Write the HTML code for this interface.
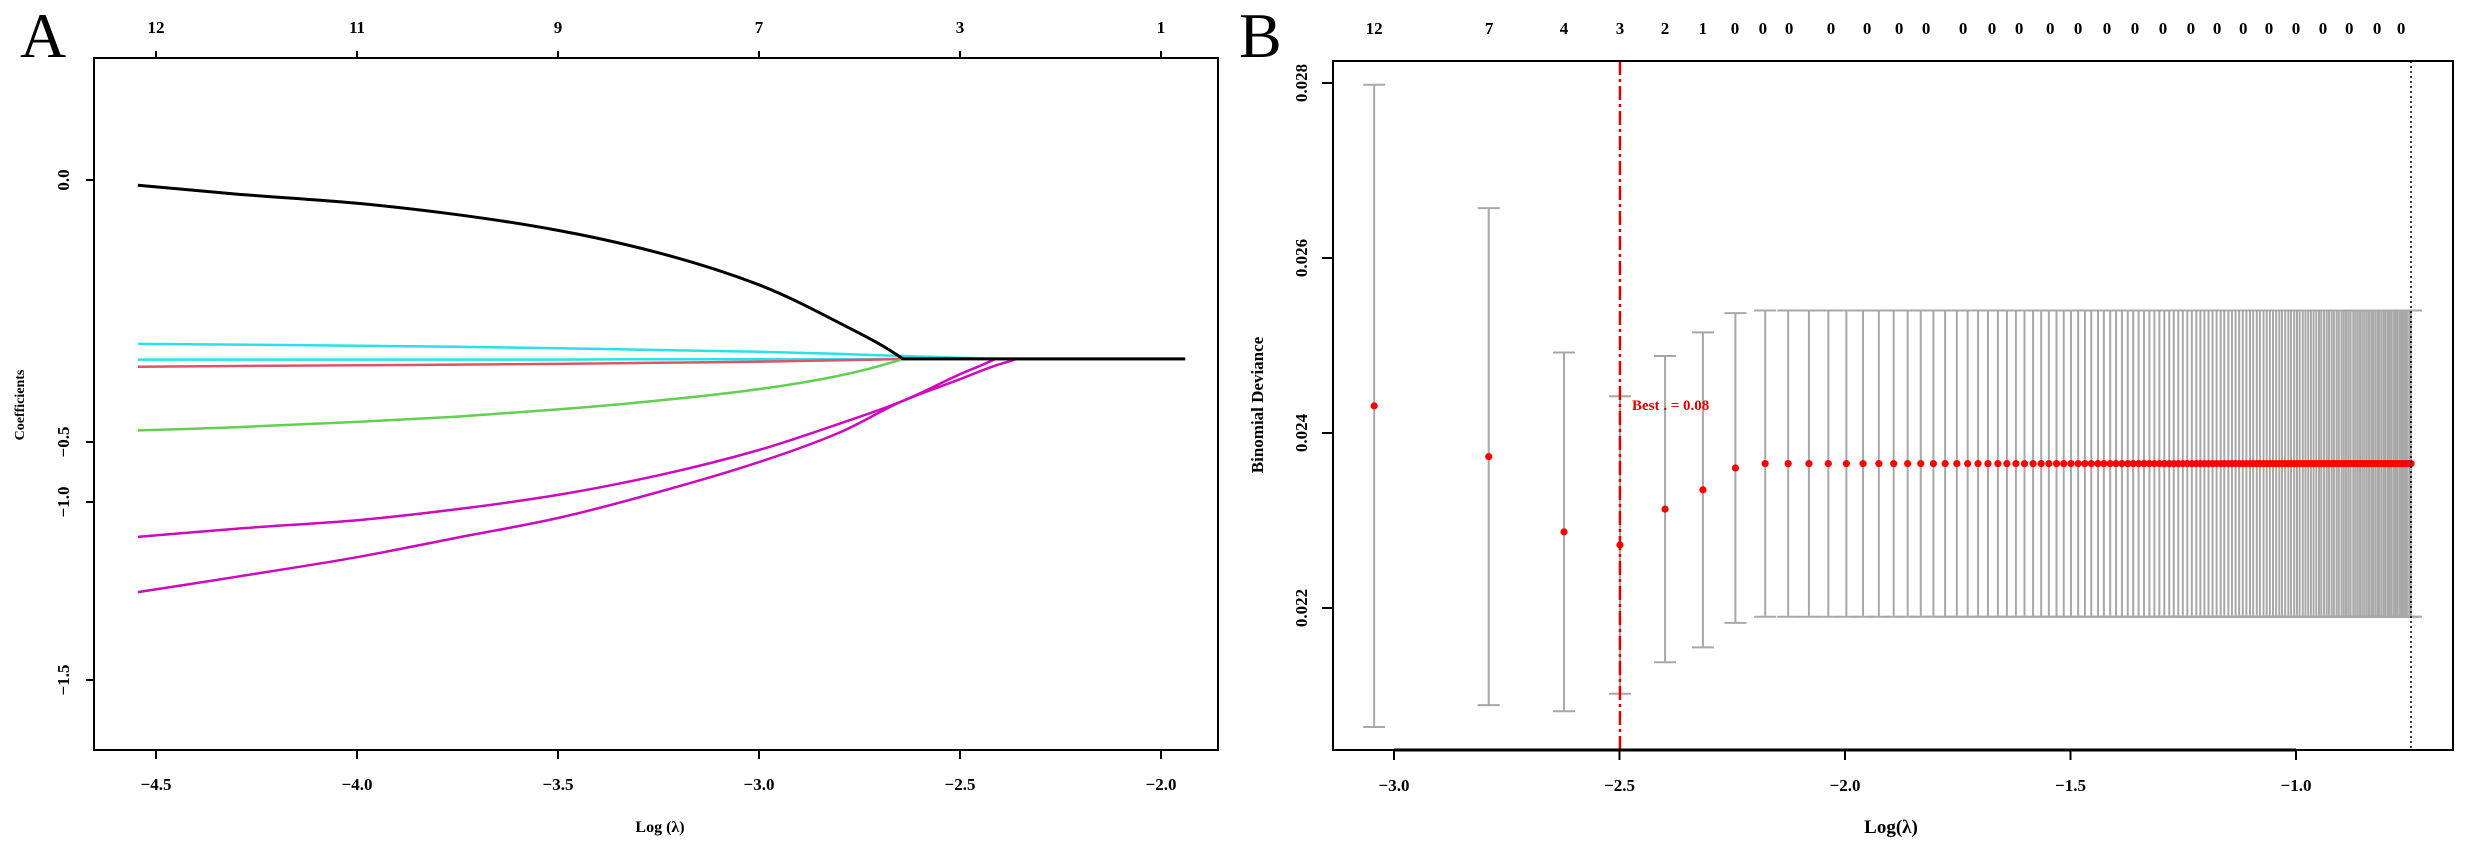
<!DOCTYPE html>
<html><head><meta charset="utf-8">
<style>
html,body{margin:0;padding:0;background:#fff;}
svg{display:block;font-family:"Liberation Serif","DejaVu Serif",serif;}
.tk{font-size:17px;font-weight:bold;fill:#000;}
</style></head>
<body>
<svg id="fig" width="2467" height="848" viewBox="0 0 2467 848" xmlns="http://www.w3.org/2000/svg">
  <rect x="0" y="0" width="2467" height="848" fill="#fff"/>
  <g id="panelA"></g>
  <g id="panelB"></g>
</svg>
<script>
// ---------- Panel A data ----------
const xA = [-4.545, -4.3, -4.0, -3.75, -3.5, -3.25, -3.0, -2.8, -2.642, -2.5, -2.413, -2.36, -2.0, -1.94];
const pathBlack   = [-0.110, -0.135, -0.161, -0.193, -0.237, -0.300, -0.390, -0.497, -0.598, -0.598, -0.598, -0.598, -0.598, -0.598];
const pathCyanTop = [-0.556, -0.558, -0.561, -0.564, -0.568, -0.573, -0.578, -0.584, -0.590, -0.595, -0.598, -0.598, -0.598, -0.598];
const pathCyanLow = [-0.600, -0.600, -0.600, -0.600, -0.600, -0.599, -0.599, -0.599, -0.598, -0.598, -0.598, -0.598, -0.598, -0.598];
const pathRed     = [-0.620, -0.618, -0.616, -0.614, -0.612, -0.609, -0.606, -0.602, -0.598, -0.598, -0.598, -0.598, -0.598, -0.598];
const pathGreen   = [-0.799, -0.790, -0.775, -0.760, -0.740, -0.715, -0.683, -0.645, -0.598, -0.598, -0.598, -0.598, -0.598, -0.598];
const pathMag1    = [-1.098, -1.075, -1.051, -1.020, -0.980, -0.925, -0.854, -0.780, -0.716, -0.641, -0.598, -0.598, -0.598, -0.598];
const pathMag2    = [-1.253, -1.210, -1.155, -1.100, -1.045, -0.972, -0.888, -0.805, -0.716, -0.655, -0.617, -0.598, -0.598, -0.598];
const xTicksA = [-4.5, -4.0, -3.5, -3.0, -2.5, -2.0];
const xTickLabelsA = ["\u22124.5", "\u22124.0", "\u22123.5", "\u22123.0", "\u22122.5", "\u22122.0"];
const topLabelsA = ["12", "11", "9", "7", "3", "1"];
const yTicksA = [-0.0955, -0.8315, -1.0, -1.5];
const yTickLabelsA = ["0.0", "\u22120.5", "\u22121.0", "\u22121.5"];

// ---------- Panel B data ----------
const logLambda = [-3.044, -2.790, -2.623, -2.499, -2.399, -2.315, -2.243,
 -2.177, -2.126, -2.080, -2.037, -1.997, -1.960, -1.925, -1.892, -1.861, -1.832,
 -1.804, -1.778, -1.752, -1.728, -1.705, -1.683, -1.661, -1.641, -1.621, -1.602,
 -1.583, -1.565, -1.548, -1.531, -1.515, -1.499, -1.483, -1.468, -1.454, -1.439,
 -1.426, -1.412, -1.399, -1.386, -1.373, -1.361, -1.349, -1.337, -1.325, -1.314,
 -1.303, -1.292, -1.281, -1.271, -1.261, -1.251, -1.241, -1.231, -1.221, -1.212,
 -1.203, -1.194, -1.185, -1.176, -1.167, -1.159, -1.150, -1.142, -1.134, -1.126,
 -1.118, -1.110, -1.102, -1.095, -1.087, -1.080, -1.072, -1.065, -1.058, -1.051,
 -1.044, -1.037, -1.031, -1.024, -1.017, -1.011, -1.004, -0.998, -0.992, -0.985,
 -0.979, -0.973, -0.967, -0.961, -0.955, -0.949, -0.944, -0.938, -0.932, -0.927,
 -0.921, -0.916, -0.910, -0.905, -0.899, -0.894, -0.889, -0.884, -0.879, -0.873,
 -0.868, -0.863, -0.858, -0.853, -0.848, -0.843, -0.838, -0.833, -0.829, -0.824,
 -0.819, -0.815, -0.810, -0.805, -0.801, -0.796, -0.792, -0.788, -0.783, -0.779,
 -0.775, -0.770, -0.766, -0.762, -0.758, -0.754, -0.749, -0.745];
const cvMeanHead = [0.02431, 0.02373, 0.02287, 0.02272, 0.02313, 0.02335, 0.02360];
const cvSdHead   = [0.00367, 0.00284, 0.00205, 0.00170, 0.00175, 0.00180, 0.00177];
const cvMeanTail = 0.02365;   // flat deviance for all remaining lambdas
const cvSdTail   = 0.00175;
const bestLogLambda = -2.499;
const maxLogLambda = -0.745;
const xTicksB = [-3.0, -2.5, -2.0, -1.5, -1.0];
const xTickLabelsB = ["\u22123.0", "\u22122.5", "\u22122.0", "\u22121.5", "\u22121.0"];
const yTicksB = [0.022, 0.024, 0.026, 0.028];
const yTickLabelsB = ["0.022", "0.024", "0.026", "0.028"];
const topPosB = [-3.044, -2.789, -2.623, -2.499, -2.399, -2.315, -2.244, -2.182, -2.124,
 -2.031, -1.951, -1.880, -1.820, -1.738, -1.674, -1.614, -1.545, -1.483, -1.419,
 -1.357, -1.295, -1.233, -1.175, -1.117, -1.060, -1.000, -0.940, -0.882, -0.820, -0.767];
const topLabelsB = ["12","7","4","3","2","1","0","0","0","0","0","0","0","0","0","0","0","0","0","0","0","0","0","0","0","0","0","0","0","0"];

const NS = "http://www.w3.org/2000/svg";
function mk(tag, attrs, parent, text) {
  const e = document.createElementNS(NS, tag);
  for (const k in attrs) e.setAttribute(k, attrs[k]);
  if (text !== undefined) e.textContent = text;
  parent.appendChild(e);
  return e;
}
// ---------- axis functions ----------
const sxA = v => 156 + (v + 4.5) * 402;
const syA = v => 502 - (v + 1.0) * 356;
const sxB = v => 1394 + (v + 3) * 451;
const syB = v => 433 - (v - 0.024) * 87500;

// monotone cubic path; sharp corner where a path joins the flat zero line
function monoPath(pts) {
  const n = pts.length, dx = [], m = [], tL = new Array(n), tR = new Array(n);
  for (let i = 0; i < n - 1; i++) { dx[i] = pts[i+1][0] - pts[i][0]; m[i] = (pts[i+1][1] - pts[i][1]) / dx[i]; }
  const flat = v => Math.abs(v) < 1e-6;
  tL[0] = tR[0] = m[0]; tL[n-1] = tR[n-1] = m[n-2];
  for (let i = 1; i < n - 1; i++) {
    if (flat(m[i]) && !flat(m[i-1])) { tL[i] = m[i-1] * 1.25; tR[i] = 0; }
    else if (m[i-1] * m[i] <= 0) { tL[i] = tR[i] = 0; }
    else { const w1 = 2*dx[i] + dx[i-1], w2 = dx[i] + 2*dx[i-1]; tL[i] = tR[i] = (w1 + w2) / (w1 / m[i-1] + w2 / m[i]); }
  }
  let d = "M" + pts[0][0].toFixed(1) + "," + pts[0][1].toFixed(1);
  for (let i = 0; i < n - 1; i++) {
    const h = dx[i] / 3;
    d += " C" + (pts[i][0] + h).toFixed(1) + "," + (pts[i][1] + tR[i]*h).toFixed(1) + " " +
         (pts[i+1][0] - h).toFixed(1) + "," + (pts[i+1][1] - tL[i+1]*h).toFixed(1) + " " +
         pts[i+1][0].toFixed(1) + "," + pts[i+1][1].toFixed(1);
  }
  return d;
}

// ---------- Panel A ----------
const A = document.getElementById("panelA");
let t = mk("text", {x: 20, y: 57, "font-size": 64}, A, "A");



const seriesA = [
  [pathCyanTop, "#28E2E5", 2.5, "path-cyan-upper"],
  [pathCyanLow, "#28E2E5", 2.5, "path-cyan-lower"],
  [pathRed, "#DF536B", 2.5, "path-red"],
  [pathGreen, "#61D04F", 2.5, "path-green"],
  [pathMag1, "#CD0BBC", 2.5, "path-magenta-1"],
  [pathMag2, "#CD0BBC", 2.5, "path-magenta-2"],
  [pathBlack, "#000000", 3, "path-black"]
];
seriesA.forEach(s => {
  const pts = xA.map((x, i) => [sxA(x), syA(s[0][i])]);
  const p = mk("path", {d: monoPath(pts), fill: "none", stroke: s[1], "stroke-width": s[2], "stroke-linejoin": "round"}, A);
  
  
});

let r = mk("rect", {x: 94, y: 58, width: 1124, height: 692, fill: "none", stroke: "#000", "stroke-width": 2}, A);



xTicksA.forEach((v, i) => {
  const x = sxA(v);
  let l = mk("line", {x1: x, y1: 750, x2: x, y2: 759, stroke: "#000", "stroke-width": 2}, A);
  
  
  let tx = mk("text", {x: x, y: 790, "text-anchor": "middle", class: "tk"}, A, xTickLabelsA[i]);
  
  
  let l2 = mk("line", {x1: x, y1: 58, x2: x, y2: 51, stroke: "#000", "stroke-width": 2}, A);
  
  
  let tt = mk("text", {x: x, y: 33, "text-anchor": "middle", class: "tk", "font-size": 16}, A, topLabelsA[i]);
  
  
});
yTicksA.forEach((v, i) => {
  const y = syA(v);
  let l = mk("line", {x1: 94, y1: y, x2: 86, y2: y, stroke: "#000", "stroke-width": 2}, A);
  
  
  let tx = mk("text", {x: 0, y: 0, "text-anchor": "middle", class: "tk", transform: "translate(69," + y + ") rotate(-90)"}, A, yTickLabelsA[i]);
  
  
});
t = mk("text", {x: 660, y: 832, "text-anchor": "middle", "font-size": 16, "font-weight": "bold"}, A, "Log (\u03bb)");


t = mk("text", {x: 0, y: 0, "text-anchor": "middle", "font-size": 14, "font-weight": "bold", transform: "translate(24,405) rotate(-90)"}, A, "Coefficients");



// ---------- Panel B ----------
const B = document.getElementById("panelB");
t = mk("text", {x: 1239, y: 57, "font-size": 64}, B, "B");



logLambda.forEach((lx, i) => {
  const m = i < cvMeanHead.length ? cvMeanHead[i] : cvMeanTail;
  const sd = i < cvSdHead.length ? cvSdHead[i] : cvSdTail;
  const x = sxB(lx), yh = syB(m + sd), yl = syB(m - sd);
  const g = mk("g", {stroke: "#a8a8a8", "stroke-width": 2}, B);
  
  
  mk("line", {x1: x, y1: yh, x2: x, y2: yl}, g);
  mk("line", {x1: x - 11, y1: yh, x2: x + 11, y2: yh}, g);
  mk("line", {x1: x - 11, y1: yl, x2: x + 11, y2: yl}, g);
});
logLambda.forEach((lx, i) => {
  const m = i < cvMeanHead.length ? cvMeanHead[i] : cvMeanTail;
  const c = mk("circle", {cx: sxB(lx), cy: syB(m), r: 3.6, fill: "#ff0000"}, B);
  
  
});

let bl = mk("line", {x1: sxB(bestLogLambda), y1: 61, x2: sxB(bestLogLambda), y2: 750, stroke: "#e00000", "stroke-width": 2.5, "stroke-dasharray": "14 4 3 4"}, B);


let ml = mk("line", {x1: sxB(maxLogLambda), y1: 61, x2: sxB(maxLogLambda), y2: 750, stroke: "#000", "stroke-width": 1.5, "stroke-dasharray": "2 3"}, B);


t = mk("text", {x: 1632, y: 410, "font-size": 15, "font-weight": "bold", fill: "#e00000"}, B, "Best . = 0.08");



r = mk("rect", {x: 1333, y: 61, width: 1120, height: 689, fill: "none", stroke: "#000", "stroke-width": 2}, B);


let ax = mk("line", {x1: sxB(-3.0), y1: 750, x2: sxB(-1.0), y2: 750, stroke: "#000", "stroke-width": 3}, B);



xTicksB.forEach((v, i) => {
  const x = sxB(v);
  let l = mk("line", {x1: x, y1: 750, x2: x, y2: 760, stroke: "#000", "stroke-width": 2}, B);
  
  
  let tx = mk("text", {x: x, y: 791, "text-anchor": "middle", class: "tk"}, B, xTickLabelsB[i]);
  
  
});
yTicksB.forEach((v, i) => {
  const y = syB(v);
  let l = mk("line", {x1: 1333, y1: y, x2: 1322, y2: y, stroke: "#000", "stroke-width": 2}, B);
  
  
  let tx = mk("text", {x: 0, y: 0, "text-anchor": "middle", class: "tk", transform: "translate(1307," + y + ") rotate(-90)"}, B, yTickLabelsB[i]);
  
  
});
topPosB.forEach((v, i) => {
  let tt = mk("text", {x: sxB(v), y: 34, "text-anchor": "middle", class: "tk", "font-size": 15}, B, topLabelsB[i]);
  
  
});
t = mk("text", {x: 1891, y: 833, "text-anchor": "middle", "font-size": 19, "font-weight": "bold"}, B, "Log(\u03bb)");


t = mk("text", {x: 0, y: 0, "text-anchor": "middle", "font-size": 17, "font-weight": "bold", transform: "translate(1263,405) rotate(-90)"}, B, "Binomial Deviance");


</script>
</body></html>
